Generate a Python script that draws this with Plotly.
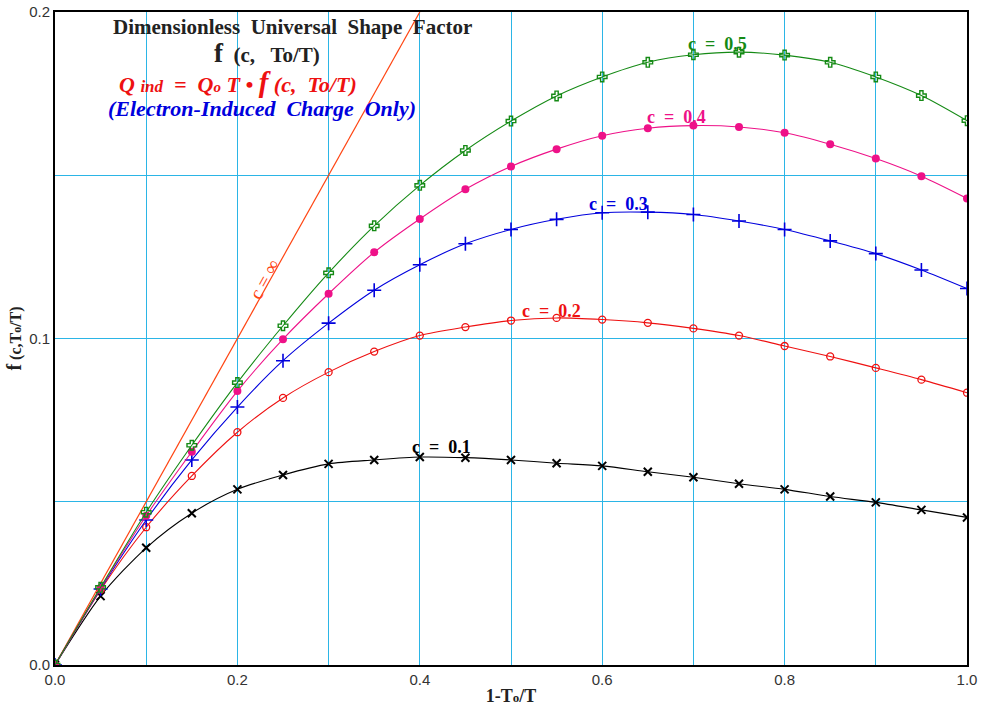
import plotly.graph_objects as go

# ---------------- data ----------------
x_vals = [0.0, 0.05, 0.10, 0.15, 0.20, 0.25, 0.30, 0.35, 0.40, 0.45, 0.50,
          0.55, 0.60, 0.65, 0.70, 0.75, 0.80, 0.85, 0.90, 0.95, 1.00]
c01 = [0, 0.0211, 0.0359, 0.0465, 0.0538, 0.0582, 0.0616, 0.0628, 0.0637, 0.0635, 0.0628,
       0.0618, 0.0610, 0.0592, 0.0575, 0.0555, 0.0538, 0.0516, 0.0498, 0.0475, 0.0452]
c02 = [0, 0.0230, 0.0422, 0.0579, 0.0713, 0.0818, 0.0897, 0.0960, 0.1009, 0.1035, 0.1055,
       0.1063, 0.1058, 0.1048, 0.1031, 0.1009, 0.0977, 0.0945, 0.0910, 0.0874, 0.0834]
c03 = [0, 0.0233, 0.0444, 0.0628, 0.0790, 0.0932, 0.1047, 0.1148, 0.1226, 0.1290, 0.1334,
       0.1365, 0.1385, 0.1387, 0.1380, 0.1360, 0.1334, 0.1299, 0.1260, 0.1210, 0.1153]
c04 = [0, 0.0236, 0.0457, 0.0653, 0.0839, 0.0998, 0.1137, 0.1264, 0.1366, 0.1457, 0.1527,
       0.1580, 0.1621, 0.1644, 0.1652, 0.1648, 0.1630, 0.1595, 0.1551, 0.1497, 0.1429]
c05 = [0, 0.0238, 0.0468, 0.0673, 0.0865, 0.1039, 0.1201, 0.1345, 0.1469, 0.1576, 0.1666,
       0.1743, 0.1801, 0.1846, 0.1869, 0.1877, 0.1868, 0.1846, 0.1801, 0.1744, 0.1667]
cinf_x = [0.0, 0.4]
cinf_y = [0.0, 0.2]

x_ticks = [0.0, 0.2, 0.4, 0.6, 0.8, 1.0]
y_ticks = [0.0, 0.1, 0.2]

GRID = "#2bb5e6"
SERIF = "Liberation Serif, Times New Roman, serif"

fig = go.Figure()

fig.add_trace(go.Scatter(x=cinf_x, y=cinf_y, mode="lines",
                         line=dict(color="#ff4411", width=1.2), hoverinfo="skip"))

series = [
    (c01, "black", "x-thin", 8, 2),
    (c02, "#ee1111", "circle-open", 7, 1.3),
    (c03, "#0000dd", "cross-thin", 10, 1.6),
    (c04, "#ee1188", "circle", 8, 0),
    (c05, "#158a15", "cross-open", 8, 1.4),
]
for ys, col, sym, sz, lw in series:
    fig.add_trace(go.Scatter(
        x=x_vals, y=ys, mode="lines+markers",
        line=dict(color=col, width=1.1, shape="spline", smoothing=0.8),
        marker=dict(symbol=sym, size=sz, color=col,
                    line=dict(color=col, width=lw))))

def px2x(px):
    return (px - 55) / 912.0

def py2y(py):
    return (665 - py) / 3265.0

anns = []
def add(text, px, py, color, size, angle=0, font=SERIF):
    anns.append(dict(text=text, x=px2x(px), y=py2y(py), xref="x", yref="y",
                     showarrow=False, textangle=angle,
                     font=dict(family=font, size=size, color=color),
                     xanchor="center", yanchor="middle"))

add("<b>Dimensionless  Universal  Shape  Factor</b>", 292, 27, "#222222", 21)
add("<b><span style='font-size:27px'>f</span>  (c,   To/T)</b>", 267, 53, "#222222", 21)
add("<b><i>Q <span style='font-size:17px'>ind</span>  =  Q<span style='font-size:15px'>o</span> T "
    "\u2022 <span style='font-size:29px'>f</span> (c,  To/T)</i></b>", 238, 82, "#ee1111", 22)
add("<b><i>(Electron-Induced  Charge  Only)</i></b>", 262, 108, "#0000dd", 22)

add("<b>c  =  0.1</b>", 441, 447, "black", 18)
add("<b>c  =  0.2</b>", 551, 311, "#ee1111", 18)
add("<b>c  =  0.3</b>", 618, 204, "#0000dd", 18)
add("<b>c  =  0.4</b>", 676, 117, "#ee1188", 18)
add("<b>c  =  0.5</b>", 717, 44, "#158a15", 18)
add("c = \u221e", 264, 279, "#ff4411", 19, angle=-61)

axis_common = dict(showline=True, linecolor="black", linewidth=2, mirror=True,
                   showgrid=True, gridcolor=GRID, gridwidth=1, zeroline=False,
                   ticks="", tickformat=".1f", automargin=False,
                   ticklabeloverflow="allow",
                   tickfont=dict(family="Liberation Sans, Arial", size=15, color="#333333"))

fig.update_layout(
    width=984, height=710,
    margin=dict(l=55, r=17, t=12, b=45, autoexpand=False),
    paper_bgcolor="white", plot_bgcolor="white",
    showlegend=False,
    annotations=anns,
    xaxis=dict(range=[0, 1], tickvals=x_ticks,
               minor=dict(dtick=0.1, showgrid=True, gridcolor=GRID, gridwidth=1),
               title=dict(text="<b>1-T<span style='font-size:13px'>o</span>/T</b>",
                          font=dict(family=SERIF, size=18, color="#222222"), standoff=2),
               **axis_common),
    yaxis=dict(range=[0, 0.2], tickvals=y_ticks,
               minor=dict(dtick=0.05, showgrid=True, gridcolor=GRID, gridwidth=1),
               title=dict(text="<b><span style='font-size:20px'>f</span> (c,T<span style='font-size:12px'>o</span>/T)</b>",
                          font=dict(family=SERIF, size=16, color="#222222"), standoff=4),
               **axis_common),
)

fig.write_html("out.html", config={"displayModeBar": False},
               post_script="document.body.style.margin='0';document.body.style.overflow='hidden';")
